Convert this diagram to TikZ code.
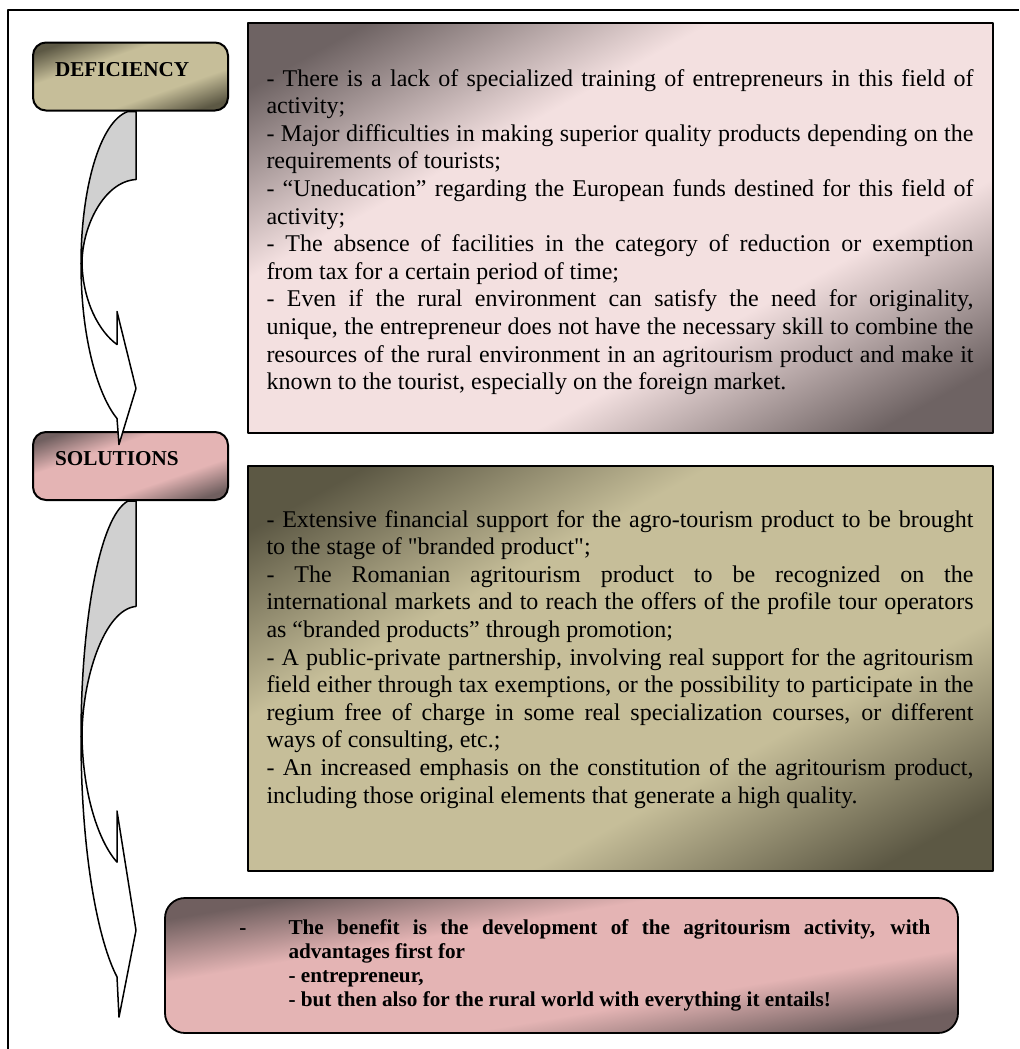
\documentclass[tikz,border=0pt]{standalone}
\usepackage{fontspec}
\setmainfont{Liberation Serif}[Ligatures=TeXOff]

\definecolor{backgray}{RGB}{208,208,208}
% light in the middle band, dark toward the top-left and bottom-right corners
\pgfdeclarefunctionalshading{pinkcorner}{\pgfpoint{-50bp}{-50bp}}{\pgfpoint{50bp}{50bp}}{}{%
  sub 42 div abs 0.45 sub 0.55 div dup 0 lt {pop 0} if dup 1 gt {pop 1} if
  dup -0.522 mul 0.953 add exch dup -0.490 mul 0.878 add exch -0.490 mul 0.878 add}
\pgfdeclarefunctionalshading{olivecorner}{\pgfpoint{-50bp}{-50bp}}{\pgfpoint{50bp}{50bp}}{}{%
  sub 42 div abs 0.45 sub 0.55 div dup 0 lt {pop 0} if dup 1 gt {pop 1} if
  dup -0.415 mul 0.776 add exch dup -0.400 mul 0.745 add exch -0.333 mul 0.600 add}
\pgfdeclarefunctionalshading{rosecorner}{\pgfpoint{-50bp}{-50bp}}{\pgfpoint{50bp}{50bp}}{}{%
  sub 42 div abs 0.45 sub 0.55 div dup 0 lt {pop 0} if dup 1 gt {pop 1} if
  dup -0.455 mul 0.894 add exch dup -0.333 mul 0.706 add exch -0.333 mul 0.706 add}

\tolerance=10000
\hbadness=10000
\hyphenpenalty=10000
\exhyphenpenalty=10000

\begin{document}
\begin{tikzpicture}[x=0.5pt,y=-0.5pt,line join=round,
  pinkshade/.style={shade, shading=pinkcorner},
  oliveshade/.style={shade, shading=olivecorner},
  roseshade/.style={shade, shading=rosecorner},
  bigbox/.style={draw, shape=rectangle, line width=0.9pt, minimum width=372.5pt, inner sep=0pt},
  labelbox/.style={draw, shape=rectangle, line width=1pt, rounded corners=6.5pt, minimum width=97.5pt,
    minimum height=34pt, inner xsep=11pt, inner ysep=0pt, text width=75.5pt, align=left,
    text height=7pt, text depth=7.5pt, font=\bfseries\fontsize{10.6}{12.2}\selectfont},
  bodytext/.style={anchor=base west, inner sep=0pt, text width=353.5pt, align=justify,
    font=\fontsize{12}{13.8}\selectfont},
  benefittext/.style={anchor=base west, inner sep=0pt, text width=321pt, align=justify,
    font=\bfseries\fontsize{10.6}{12}\selectfont},
  bendarrow/.style={draw, line width=0.75pt}]
\useasboundingbox (0,0) rectangle (1019,1049);

% frame
\draw[line width=0.75pt] (8,1049) -- (8,10) -- (1019,10);

% boxes
\draw (620.5,228) node[bigbox, pinkshade, minimum height=205pt] (defbox) {};
\draw (620.5,668.5) node[bigbox, oliveshade, minimum height=202.5pt] (solbox) {};
\draw (561.5,965.5) node[draw, shape=rectangle, line width=0.9pt, roseshade, rounded corners=10pt,
  minimum width=396.5pt, minimum height=67.5pt, inner sep=0pt] (benefit) {};

\draw (130.5,76.5) node[labelbox, oliveshade] (deflabel) {DEFICIENCY};
\draw (130.5,466) node[labelbox, roseshade] (sollabel) {SOLUTIONS};

% bent arrows below the labels
\foreach \lbl/\ys in {deflabel/1, sollabel/1.55}{
  \begin{scope}[shift={(\lbl.south west)}, yscale=\ys]
    \draw[bendarrow, fill=white] (50,152) .. controls (51,190) and (67,220) .. (85,233)
      -- (85,200) -- (104,277) -- (87,333) -- (85,307)
      .. controls (67,285) and (49,230) .. (49,152) -- cycle;
    \draw[bendarrow, fill=backgray] (96,0) -- (104,0) -- (104,68)
      .. controls (72,70) and (50,115) .. (50,152) -- (49,152)
      .. controls (49,80) and (67,10) .. (96,0) -- cycle;
  \end{scope}
}

% texts
\draw (defbox.north west) ++(19,64) node[bodytext] (deftext) {%
- There is a lack of specialized training of entrepreneurs in this field of\linebreak activity;\\
- Major difficulties in making superior quality products depending on the\linebreak requirements of tourists;\\
- “Uneducation” regarding the European funds destined for this field of\linebreak activity;\\
- The absence of facilities in the category of reduction or exemption\linebreak from tax for a certain period of time;\\
- Even if the rural environment can satisfy the need for originality,\linebreak unique, the entrepreneur does not have the necessary skill to combine the\linebreak resources of the rural environment in an agritourism product and make it\linebreak known to the tourist, especially on the foreign market.};

\draw (solbox.north west) ++(19,62) node[bodytext] (soltext) {%
- Extensive financial support for the agro-tourism product to be brought\linebreak to the stage of "branded product";\\
- The Romanian agritourism product to be recognized on the\linebreak international markets and to reach the offers of the profile tour operators\linebreak as “branded products” through promotion;\\
- A public-private partnership, involving real support for the agritourism\linebreak field either through tax exemptions, or the possibility to participate in the\linebreak regium free of charge in some real specialization courses, or different\linebreak ways of consulting, etc.;\\
- An increased emphasis on the constitution of the agritourism product,\linebreak including those original elements that generate a high quality.};

\draw (benefit.north west) ++(124,37) node[benefittext] (benefittxt) {%
\leavevmode\llap{-\hspace{21pt}}The benefit is the development of the agritourism activity, with\linebreak advantages first for\\
- entrepreneur,\\
- but then also for the rural world with everything it entails!};
\end{tikzpicture}
\end{document}
